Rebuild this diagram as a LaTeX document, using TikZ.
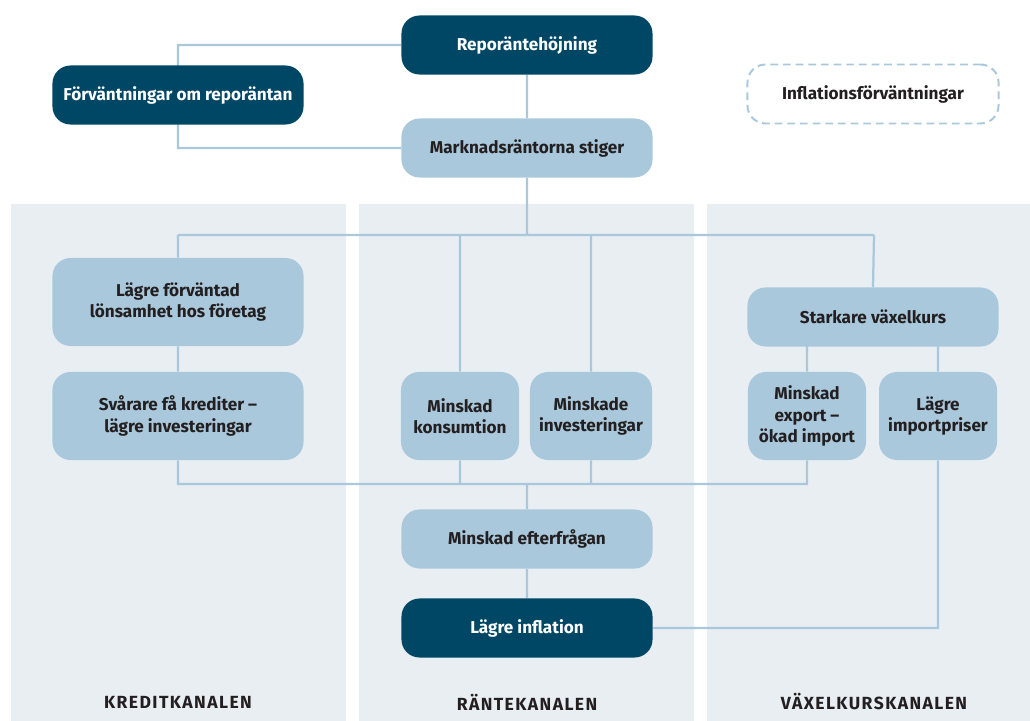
\documentclass[tikz,border=0pt]{standalone}
\usepackage{fontspec}
\setmainfont{Fira Sans}
\usetikzlibrary{backgrounds}
\definecolor{morkbla}{RGB}{0,71,102}
\definecolor{ljusbla}{RGB}{169,200,220}
\definecolor{panelgra}{RGB}{233,238,243}
\definecolor{textgra}{RGB}{35,31,32}
\tikzset{
  ruta/.style={rounded corners=0.45cm, fill=ljusbla, text=textgra, font=\fontsize{12.2}{15}\selectfont\bfseries,
    align=center, inner sep=0pt, minimum width=6.275cm, minimum height=1.475cm},
  mork/.style={ruta, fill=morkbla, text=white},
  smal/.style={ruta, minimum width=2.95cm, minimum height=2.2cm},
  streckad/.style={ruta, fill=none, draw=ljusbla, line width=1.4pt, dash pattern=on 5.5pt off 3.5pt},
  linje/.style={draw=ljusbla, line width=1.6pt},
  kanal/.style={text=textgra, font=\fontsize{12.5}{14}\selectfont\bfseries\addfontfeature{LetterSpace=8}},
}
\begin{document}
\begin{tikzpicture}[x=0.025cm, y=-0.025cm]
  \useasboundingbox (0,0) rectangle (1030,721);
  \begin{scope}[on background layer]
    \fill[panelgra] (11,204) rectangle (346,721)
      (359,204) rectangle (694,721)
      (707,204) rectangle (1030,721);
  \end{scope}

  % top
  \node[mork] (repo) at (527,45) {Reporäntehöjning};
  \node[mork] (forv) at (178,95) {Förväntningar om reporäntan};
  \node[streckad] (infl) at (873,94) {Inflationsförväntningar};
  \node[ruta] (mark) at (527,148) {Marknadsräntorna stiger};

  % kanalerna
  \node[ruta, minimum height=2.2cm] (lons) at (178,302) {Lägre förväntad\\lönsamhet hos företag};
  \node[ruta, minimum height=2.2cm] (kred) at (178,416) {Svårare få krediter –\\lägre investeringar};
  \node[smal] (kons) at (460,416) {Minskad\\konsumtion};
  \node[smal, minimum width=3.05cm] (inv) at (591,416) {Minskade\\investeringar};
  \node[ruta] (vaxel) at (873,317) {Starkare växelkurs};
  \node[smal] (expo) at (807,416) {Minskad\\export –\\ökad import};
  \node[smal] (impo) at (938,416) {Lägre\\importpriser};

  % botten
  \node[ruta] (efter) at (527,539) {Minskad efterfrågan};
  \node[mork] (lagre) at (527,628) {Lägre inflation};

  \node[kanal] (k1) at (178,702) {KREDITKANALEN};
  \node[kanal] (k2) at (527,702) {RÄNTEKANALEN};
  \node[kanal] (k3) at (874,702) {VÄXELKURSKANALEN};

  \begin{scope}[on background layer]
    \coordinate (uppe) at (527,235);
    \coordinate (nere) at (527,484);
    \path[linje] (repo.west) -- (178,45) |- (mark.west)
      (repo) -- (mark)
      (mark) -- (uppe)
      (178,235) -- (874,235)
      (178,235) -- (lons.north)
      (460,235) -- (kons.north)
      (591,235) -- (inv.north)
      (874,235) -- (vaxel.north)
      (lons) -- (kred)
      (807,346) -- (expo.north)
      (938,346) -- (impo.north)
      (kred.south) -- (178,484) -- (807,484) -- (expo.south)
      (kons.south) -- (460,484)
      (inv.south) -- (591,484)
      (nere) -- (efter.north)
      (efter) -- (lagre)
      (impo.south) |- (lagre.east);
  \end{scope}
\end{tikzpicture}
\end{document}
